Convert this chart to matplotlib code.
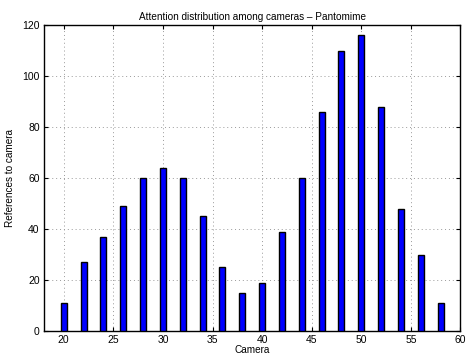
import numpy as np
import matplotlib.pyplot as plt

plt.rcParams['font.family'] = ['Liberation Sans', 'DejaVu Sans']

camera = np.arange(20, 60, 2)
refs = [11, 27, 37, 49, 60, 64, 60, 45, 25, 15,
        19, 39, 60, 86, 110, 116, 88, 48, 30, 11]

fig = plt.figure(figsize=(4.67, 3.53), dpi=100)
ax = fig.add_axes([0.094, 0.062, 0.892, 0.867])

ax.bar(camera, refs, width=0.6, color='#0000ff', edgecolor='black', linewidth=1.0, zorder=3)

ax.set_xlim(18, 60)
ax.set_ylim(0, 120)
ax.set_xticks(np.arange(20, 61, 5))
ax.set_yticks(np.arange(0, 121, 20))
ax.grid(True, linestyle=(0, (1, 3)), color='#999999', linewidth=0.7)
ax.tick_params(axis='both', which='both', direction='in', top=True, right=True,
               labelsize=7.5, length=3, width=0.8, pad=3)
for s in ax.spines.values():
    s.set_linewidth(1.0)

ax.set_title('Attention distribution among cameras \u2013 Pantomime', fontsize=7.2, pad=4)
ax.set_xlabel('Camera', fontsize=7.2, labelpad=0)
ax.set_ylabel('References to camera', fontsize=7.2, labelpad=5)

fig.savefig('out.png', dpi=100)
